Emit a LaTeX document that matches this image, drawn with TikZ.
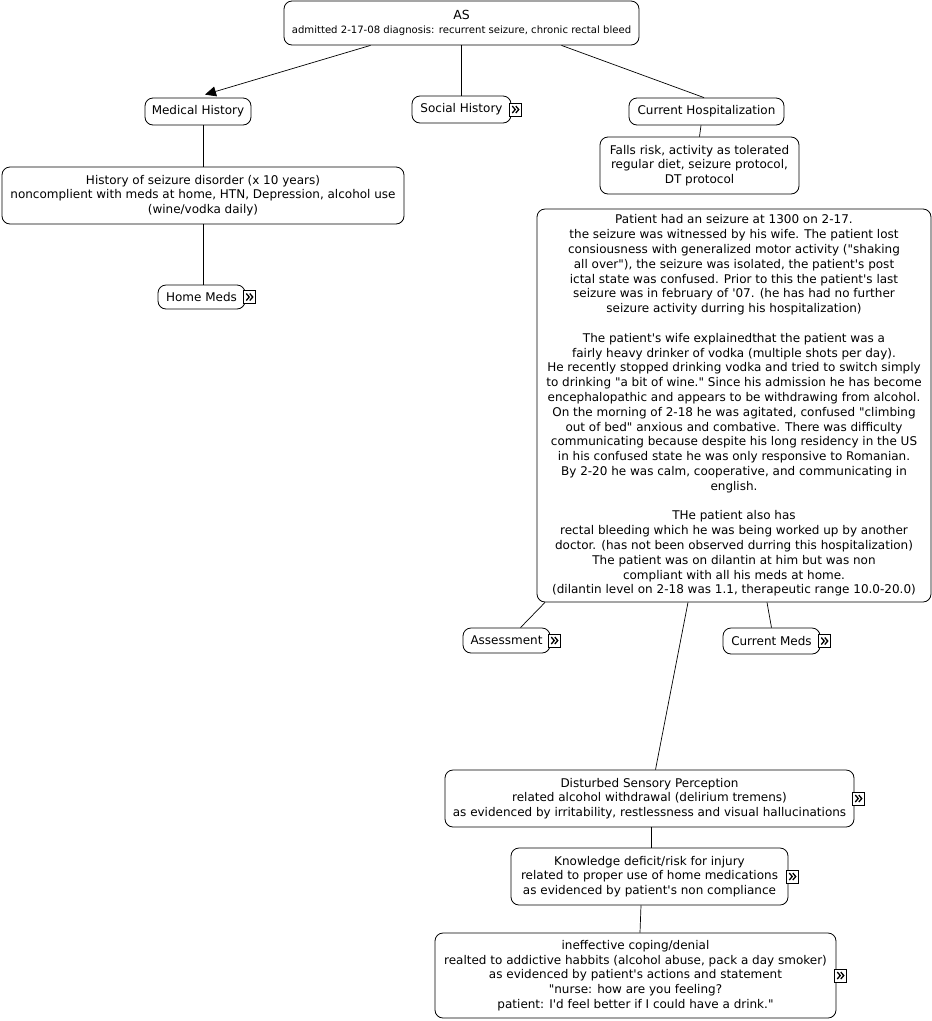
\documentclass[tikz,border=0pt]{standalone}
\usepackage{fontspec}
\setmainfont{DejaVu Sans}[Ligatures=TeXOff]
\usetikzlibrary{arrows.meta}
\tikzset{
  box/.style={draw, rounded corners=8pt, align=center, inner sep=0pt, line width=0.8pt,
    font=\fontsize{12}{14.8}\selectfont},
  icon/.style={draw, line width=0.7pt, minimum width=12pt, minimum height=13pt, inner sep=0pt, anchor=west, fill=white,
    path picture={
      \draw[line width=1.3pt] ([xshift=2.5pt,yshift=-3pt]path picture bounding box.north west) -- ++(3pt,-3.5pt) -- ++(-3pt,-3.5pt);
      \draw[line width=1.3pt] ([xshift=6pt,yshift=-3pt]path picture bounding box.north west) -- ++(3pt,-3.5pt) -- ++(-3pt,-3.5pt);
    }},
  link/.style={line width=0.7pt}
}
\begin{document}
\begin{tikzpicture}[x=1pt,y=-1pt]
\useasboundingbox[fill=white] (0,0) rectangle (932,1021);

\node[box, minimum width=355pt, minimum height=44pt] (AS) at (461.5,23)
  {{\fontsize{12.5}{14}\selectfont AS}\\[0pt]{\fontsize{10.1}{12}\selectfont admitted 2-17-08 diagnosis: recurrent seizure, chronic rectal bleed}};

\node[box, minimum width=106pt, minimum height=27pt] (med) at (198,111.5) {Medical History};
\node[box, minimum width=99pt, minimum height=27pt] (soc) at (461.5,109.5) {Social History};
\node[icon] (soci) at ([xshift=-2pt]soc.east) {};
\node[box, minimum width=155pt, minimum height=27pt] (cur) at (706.5,111.5) {Current Hospitalization};

\node[box, minimum width=199pt, minimum height=57pt] (falls) at (699.5,165.5)
  {Falls risk, activity as tolerated\\regular diet, seizure protocol,\\DT protocol};

\node[box, minimum width=402pt, minimum height=57pt] (hist) at (203,195.5)
  {History of seizure disorder (x 10 years)\\noncomplient with meds at home, HTN, Depression, alcohol use\\(wine/vodka daily)};

\node[box, minimum width=87pt, minimum height=24pt] (home) at (201.5,297) {Home Meds};
\node[icon] (homei) at ([xshift=-2pt]home.east) {};

\node[box, minimum width=394pt, minimum height=393pt] (big) at (734,405.5)
  {Patient had an seizure at 1300 on 2-17.\\
   the seizure was witnessed by his wife. The patient lost\\
   consiousness with generalized motor activity ("shaking\\
   all over"), the seizure was isolated, the patient's post\\
   ictal state was confused. Prior to this the patient's last\\
   seizure was in february of '07. (he has had no further\\
   seizure activity durring his hospitalization)\\[14.8pt]
   The patient's wife explainedthat the patient was a\\
   fairly heavy drinker of vodka (multiple shots per day).\\
   He recently stopped drinking vodka and tried to switch simply\\
   to drinking "a bit of wine." Since his admission he has become\\
   encephalopathic and appears to be withdrawing from alcohol.\\
   On the morning of 2-18 he was agitated, confused "climbing\\
   out of bed" anxious and combative. There was difficulty\\
   communicating because despite his long residency in the US\\
   in his confused state he was only responsive to Romanian.\\
   By 2-20 he was calm, cooperative, and communicating in\\
   english.\\[14.8pt]
   THe patient also has\\
   rectal bleeding which he was being worked up by another\\
   doctor. (has not been observed durring this hospitalization)\\
   The patient was on dilantin at him but was non\\
   compliant with all his meds at home.\\
   (dilantin level on 2-18 was 1.1, therapeutic range 10.0-20.0)};

\node[box, minimum width=87pt, minimum height=25pt] (assess) at (506.5,640.5) {Assessment};
\node[icon] (assessi) at ([xshift=-2pt]assess.east) {};
\node[box, minimum width=97pt, minimum height=26pt] (curmeds) at (771.5,641) {Current Meds};
\node[icon] (curmedsi) at ([xshift=-2pt]curmeds.east) {};

\node[box, minimum width=409pt, minimum height=57pt] (dist) at (649.5,798.5)
  {Disturbed Sensory Perception\\related alcohol withdrawal (delirium tremens)\\as evidenced by irritability, restlessness and visual hallucinations};
\node[icon] (disti) at ([xshift=-2pt]dist.east) {};

\node[box, minimum width=277pt, minimum height=57pt] (know) at (649.5,876.5)
  {Knowledge deficit/risk for injury\\related to proper use of home medications\\as evidenced by patient's non compliance};
\node[icon] (knowi) at ([xshift=-2pt]know.east) {};

\node[box, minimum width=401pt, minimum height=85pt] (ineff) at (635.5,975.5)
  {ineffective coping/denial\\realted to addictive habbits (alcohol abuse, pack a day smoker)\\as evidenced by patient's actions and statement\\"nurse: how are you feeling?\\patient: I'd feel better if I could have a drink."};
\node[icon] (ineffi) at ([xshift=-2pt]ineff.east) {};

% connectors
\draw[link, -{Triangle[length=11pt,width=10pt]}] ([xshift=-91pt]AS.south) -- ([xshift=7pt,yshift=3pt]med.north);
\draw[link] (AS.south) -- (soc.north);
\draw[link] ([xshift=100pt]AS.south) -- ([xshift=-2.5pt]cur.north);
\draw[link] ([xshift=5pt]med.south) -- (hist.north);
\draw[link] (hist.south) -- ([xshift=1.5pt]home.north);
\draw[link] ([xshift=-5.5pt]cur.south) -- (falls.north);
\draw[link] ([xshift=-189pt]big.south) -- ([xshift=14pt]assess.north);
\draw[link] ([xshift=33pt]big.south) -- (curmeds.north);
\draw[link] ([xshift=-46pt]big.south) -- ([xshift=6pt]dist.north);
\draw[link] ([xshift=1.5pt]dist.south) -- ([xshift=1.5pt]know.north);
\draw[link] ([xshift=-8.5pt]know.south) -- ([xshift=4.5pt]ineff.north);
\end{tikzpicture}
\end{document}
